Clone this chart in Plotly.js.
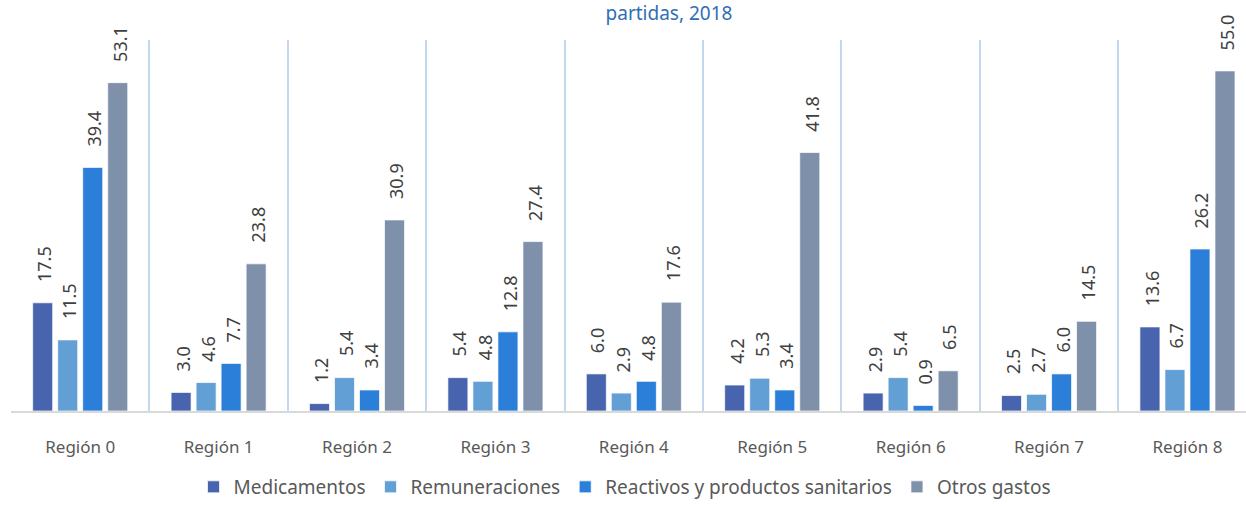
<!DOCTYPE html>
<html>
<head>
<meta charset="utf-8">
<script src="https://cdn.plot.ly/plotly-3.0.1.min.js"></script>
<style>html,body{margin:0;padding:0;background:#fff;}#chart{width:1246px;height:506px;}</style>
</head>
<body>
<div id="chart"></div>
<script>
const categories = ["Región 0","Región 1","Región 2","Región 3","Región 4","Región 5","Región 6","Región 7","Región 8"];
const seriesNames = ["Medicamentos","Remuneraciones","Reactivos y productos sanitarios","Otros gastos"];
const medicamentos   = [17.5, 3.0, 1.2, 5.4, 6.0, 4.2, 2.9, 2.5, 13.6];
const remuneraciones = [11.5, 4.6, 5.4, 4.8, 2.9, 5.3, 5.4, 2.7, 6.7];
const reactivos      = [39.4, 7.7, 3.4, 12.8, 4.8, 3.4, 0.9, 6.0, 26.2];
const otrosGastos    = [53.1, 23.8, 30.9, 27.4, 17.6, 41.8, 6.5, 14.5, 55.0];
const titleText = "partidas, 2018";

const seriesValues = [medicamentos, remuneraciones, reactivos, otrosGastos];
const colors = ["#4864ae", "#629fd4", "#2b7fd8", "#7f90aa"];

const font = "Noto Sans, Open Sans, sans-serif";
const bargap = 0.277;
const slot = (1 - bargap) / seriesValues.length;

const traces = seriesValues.map((vals, j) => ({
  type: "bar",
  name: seriesNames[j],
  x: categories,
  y: vals,
  marker: {color: colors[j], line: {color: "rgba(255,255,255,0.7)", width: 1}},
  hoverinfo: "y+name"
}));

const annotations = [];
seriesValues.forEach((vals, j) => {
  vals.forEach((v, i) => {
    annotations.push({
      x: i + (j - (seriesValues.length - 1) / 2) * slot,
      y: v,
      xref: "x", yref: "y",
      text: v.toFixed(1),
      showarrow: false,
      textangle: -90,
      xanchor: "center", yanchor: "bottom",
      yshift: 19, xshift: 1.5,
      font: {family: font, size: 18, color: "#404040"}
    });
  });
});

const layout = {
  width: 1246, height: 506,
  margin: {l: 11, r: 0, t: 40, b: 95},
  paper_bgcolor: "#ffffff", plot_bgcolor: "#ffffff",
  barmode: "group", bargap: bargap, bargroupgap: 0.2,
  showlegend: true,
  title: {
    text: titleText,
    x: 669 / 1246, xanchor: "center", xref: "container",
    y: 1 - 13 / 506, yanchor: "middle", yref: "container",
    font: {family: font, size: 19, color: "#2f6eb5"}
  },
  xaxis: {
    type: "category",
    categoryorder: "array",
    categoryarray: categories,
    range: [-0.5, 8.423],
    tickson: "boundaries",
    showgrid: true, gridcolor: "#c3d8ef", gridwidth: 2,
    showline: true, linecolor: "#d9d9d9", linewidth: 2,
    ticks: "", zeroline: false,
    ticklabelstandoff: 20,
    tickfont: {family: font, size: 17, color: "#595959"},
    fixedrange: true
  },
  yaxis: {
    range: [0, 60],
    visible: false,
    showgrid: false, zeroline: false,
    fixedrange: true
  },
  legend: {
    orientation: "h",
    xref: "container", yref: "container",
    x: 625 / 1246, xanchor: "center",
    y: -4 / 506, yanchor: "bottom",
    font: {family: font, size: 19, color: "#595959"},
    itemwidth: 30, traceorder: "normal",
    tracegroupgap: 0
  },
  annotations: annotations
};

Plotly.newPlot("chart", traces, layout, {displayModeBar: false, staticPlot: true});
</script>
</body>
</html>
